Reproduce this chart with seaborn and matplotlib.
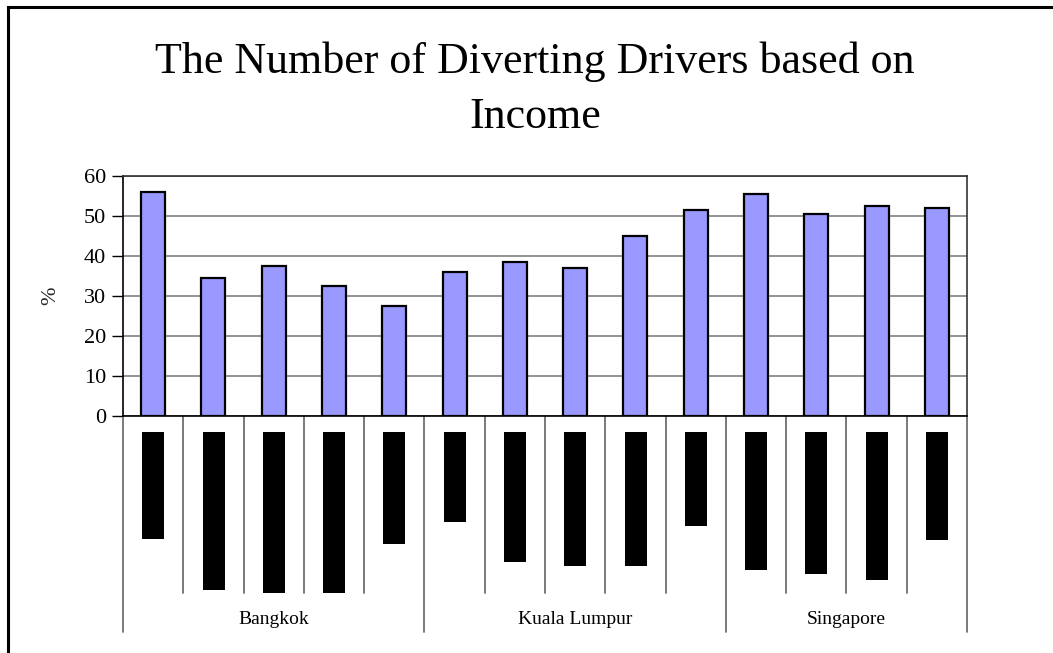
import matplotlib
matplotlib.use("Agg")
import matplotlib.pyplot as plt
import matplotlib.transforms as mtransforms
from matplotlib.patches import Rectangle
import seaborn as sns
import pandas as pd

# Share of drivers who divert, by income band, for each city
cities = ["Bangkok", "Kuala Lumpur", "Singapore"]
bands_per_city = [5, 5, 4]
diverting_pct = [56, 34.5, 37.5, 32.5, 27.5,
                 36, 38.5, 37, 45, 51.5,
                 55.5, 50.5, 52.5, 52]
# Income-band captions under each bar (printed as solid black strips), length in px
band_caption_px = [107, 158, 161, 161, 112,
                   90, 130, 134, 134, 94,
                   138, 142, 148, 108]
y_ticks = [0, 10, 20, 30, 40, 50, 60]

df = pd.DataFrame({"slot": range(len(diverting_pct)), "pct": diverting_pct})

sns.set_theme(style="white")
plt.rcParams["font.family"] = ["Liberation Serif", "DejaVu Serif"]

W, H = 1053, 653
fig = plt.figure(figsize=(W / 100, H / 100), dpi=100)
ax = fig.add_axes([123 / W, 1 - 416 / H, (967 - 123) / W, (416 - 176) / H])

sns.barplot(data=df, x="slot", y="pct", color="#9999FF", saturation=1,
            width=0.4, edgecolor="black", linewidth=1.6, ax=ax, zorder=3)

ax.set_xlim(-0.5, len(diverting_pct) - 0.5)
ax.set_ylim(0, 60)
ax.set_yticks(y_ticks)
ax.set_yticklabels([str(t) for t in y_ticks], fontsize=16, color="black")
ax.yaxis.grid(True, color="#808080", linewidth=1.2, zorder=0)
ax.tick_params(axis="y", which="major", left=True, length=8, width=1,
               color="black", pad=4)
ax.set_xticks([])
ax.set_xlabel("")
ax.set_ylabel("%", fontsize=16, rotation=90)
ax.yaxis.label.set_va("center")
ax.yaxis.label.set_ha("center")
ax.yaxis.set_label_coords((51 - 123) / 844, 0.5)
for side in ["left", "bottom", "top", "right"]:
    ax.spines[side].set_visible(True)
    ax.spines[side].set_color("black")
    ax.spines[side].set_linewidth(1.2)
ax.spines["top"].set_color("#333333")
ax.spines["right"].set_color("#333333")

# Category axis below the plot: x in data units, y in axes fraction
px = 1.0 / 240.0
trans = mtransforms.blended_transform_factory(ax.transData, ax.transAxes)

for i, L in enumerate(band_caption_px):
    ax.add_patch(Rectangle((i - 0.18, -(16 + L) * px), 0.365, L * px,
                           transform=trans, facecolor="black",
                           edgecolor="none", clip_on=False))

boundaries = [0]
for n in bands_per_city:
    boundaries.append(boundaries[-1] + n)
for k in range(len(diverting_pct) + 1):
    long_tick = k in boundaries
    depth = 216 if long_tick else 177
    ax.plot([k - 0.5, k - 0.5], [0, -depth * px], transform=trans,
            color="#707070", linewidth=1.3, clip_on=False)

for city, a, b in zip(cities, boundaries[:-1], boundaries[1:]):
    ax.text((a + b - 1) / 2, -203 * px, city, transform=trans,
            ha="center", va="center", fontsize=14, color="black")

fig.text(535 / W, 1 - 73 / H, "The Number of Diverting Drivers based on",
         ha="center", va="baseline", fontsize=31.7, color="black")
fig.text(535 / W, 1 - 128 / H, "Income",
         ha="center", va="baseline", fontsize=31.7, color="black")

# Chart-area border
fig.patches.append(Rectangle((8 / W, -0.05), 1.2, 1 - 7 / H + 0.05,
                             transform=fig.transFigure, fill=False,
                             edgecolor="black", linewidth=2.2))

fig.savefig("out.png", dpi=100)
